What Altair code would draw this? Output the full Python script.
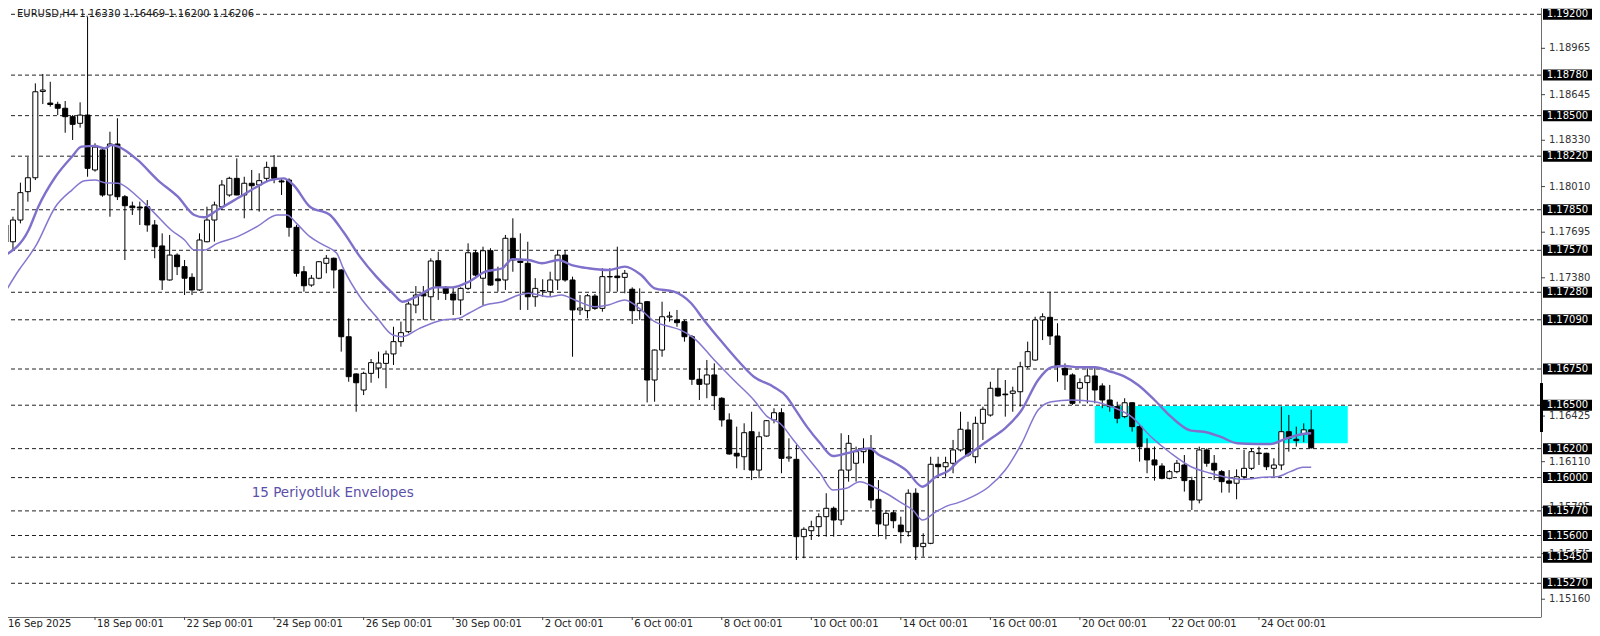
import altair as alt
import pandas as pd

# ---------------- data (EURUSD H4) ----------------
OPEN = [
    1.17745, 1.17629, 1.17779, 1.17975, 1.18071, 1.18667, 1.18587, 1.18578, 1.18551, 1.18493,
    1.18447, 1.18504, 1.18125, 1.18263, 1.17952, 1.18304, 1.17940, 1.17876, 1.17869, 1.17871,
    1.17745, 1.17600, 1.17365, 1.17537, 1.17457, 1.17383, 1.17296, 1.17629, 1.17779, 1.17871,
    1.17952, 1.18067, 1.17952, 1.18033, 1.18021, 1.18067, 1.18143, 1.18049, 1.18055, 1.17729,
    1.17422, 1.17330, 1.17377, 1.17480, 1.17515, 1.17434, 1.16973, 1.16716, 1.16605, 1.16720,
    1.16757, 1.16789, 1.16854, 1.16939, 1.17008, 1.17192, 1.17270, 1.17249, 1.17498, 1.17314,
    1.17268, 1.17227, 1.17307, 1.17553, 1.17377, 1.17567, 1.17372, 1.17365, 1.17653, 1.17496,
    1.17480, 1.17249, 1.17289, 1.17284, 1.17365, 1.17537, 1.17365, 1.17158, 1.17153, 1.17254,
    1.17169, 1.17386, 1.17392, 1.17383, 1.17301, 1.17153, 1.17215, 1.16674, 1.16881, 1.17109,
    1.17089, 1.17077, 1.16973, 1.16679, 1.16646, 1.16709, 1.16548, 1.16398, 1.16168, 1.16144,
    1.16317, 1.16052, 1.16287, 1.16398, 1.16448, 1.16135, 1.16126, 1.15592, 1.15633, 1.15661,
    1.15730, 1.15788, 1.15707, 1.16052, 1.16099, 1.16179, 1.16202, 1.15850, 1.15672, 1.15757,
    1.15672, 1.15626, 1.15892, 1.15523, 1.15546, 1.16092, 1.16075, 1.16099, 1.16191, 1.16329,
    1.16144, 1.16375, 1.16432, 1.16617, 1.16577, 1.16582, 1.16593, 1.16766, 1.16812, 1.17089,
    1.17107, 1.16978, 1.16755, 1.16709, 1.16617, 1.16656, 1.16702, 1.16633, 1.16536, 1.16490,
    1.16421, 1.16517, 1.16352, 1.16202, 1.16122, 1.16080, 1.15995, 1.16041, 1.16087, 1.15979,
    1.15845, 1.16191, 1.16099, 1.16041, 1.15977, 1.15961, 1.16006, 1.16064, 1.16166, 1.16168,
    1.16064, 1.16087, 1.16317, 1.16265, 1.16300, 1.16330,
]
HIGH = [
    1.17766, 1.17802, 1.18037, 1.18214, 1.18723, 1.18788, 1.18734, 1.18596, 1.18601, 1.18504,
    1.18592, 1.19181, 1.18309, 1.18274, 1.18389, 1.18482, 1.17952, 1.17906, 1.17906, 1.17917,
    1.17779, 1.17687, 1.17676, 1.17549, 1.17503, 1.17411, 1.17687, 1.17871, 1.17906, 1.18055,
    1.18078, 1.18205, 1.18078, 1.18125, 1.18102, 1.18182, 1.18228, 1.18067, 1.18067, 1.17745,
    1.17461, 1.17399, 1.17495, 1.17537, 1.17520, 1.17440, 1.17100, 1.16720, 1.16731, 1.16819,
    1.16870, 1.16877, 1.17042, 1.17077, 1.17215, 1.17323, 1.17323, 1.17515, 1.17560, 1.17323,
    1.17314, 1.17314, 1.17618, 1.17572, 1.17595, 1.17584, 1.17457, 1.17676, 1.17791, 1.17687,
    1.17629, 1.17377, 1.17370, 1.17422, 1.17572, 1.17572, 1.17388, 1.17261, 1.17268, 1.17268,
    1.17446, 1.17446, 1.17595, 1.17434, 1.17314, 1.17307, 1.17220, 1.16885, 1.17215, 1.17146,
    1.17158, 1.17089, 1.16985, 1.16755, 1.16812, 1.16789, 1.16555, 1.16444, 1.16352, 1.16375,
    1.16455, 1.16317, 1.16398, 1.16479, 1.16479, 1.16271, 1.16225, 1.15657, 1.15702, 1.15753,
    1.15892, 1.15800, 1.16306, 1.16294, 1.16214, 1.16271, 1.16294, 1.15983, 1.15776, 1.15776,
    1.15730, 1.15919, 1.15926, 1.15615, 1.16144, 1.16144, 1.16144, 1.16260, 1.16455, 1.16386,
    1.16421, 1.16490, 1.16662, 1.16755, 1.16674, 1.16628, 1.16800, 1.16939, 1.17111, 1.17135,
    1.17284, 1.17066, 1.16789, 1.16720, 1.16686, 1.16755, 1.16766, 1.16651, 1.16640, 1.16524,
    1.16548, 1.16520, 1.16364, 1.16271, 1.16214, 1.16099, 1.16052, 1.16122, 1.16156, 1.16006,
    1.16214, 1.16202, 1.16156, 1.16052, 1.16052, 1.16057, 1.16191, 1.16202, 1.16214, 1.16172,
    1.16133, 1.16490, 1.16433, 1.16352, 1.16375, 1.16469,
]
LOW = [
    1.17572, 1.17572, 1.17756, 1.17906, 1.18055, 1.18580, 1.18562, 1.18504, 1.18382, 1.18332,
    1.18417, 1.18078, 1.18113, 1.17940, 1.17802, 1.17917, 1.17503, 1.17814, 1.17745, 1.17698,
    1.17515, 1.17296, 1.17360, 1.17399, 1.17261, 1.17261, 1.17290, 1.17625, 1.17630, 1.17848,
    1.17940, 1.17950, 1.17791, 1.17848, 1.17837, 1.18044, 1.18033, 1.17952, 1.17664, 1.17388,
    1.17284, 1.17318, 1.17370, 1.17411, 1.17307, 1.16870, 1.16662, 1.16455, 1.16570, 1.16655,
    1.16686, 1.16617, 1.16778, 1.16904, 1.16997, 1.17135, 1.17089, 1.17089, 1.17227, 1.17227,
    1.17123, 1.17123, 1.17296, 1.17388, 1.17192, 1.17325, 1.17284, 1.17296, 1.17422, 1.17158,
    1.17158, 1.17180, 1.17249, 1.17249, 1.17296, 1.17353, 1.16835, 1.17123, 1.17100, 1.17158,
    1.17146, 1.17284, 1.17284, 1.17273, 1.17061, 1.17089, 1.16519, 1.16524, 1.16835, 1.17077,
    1.17042, 1.16939, 1.16640, 1.16536, 1.16548, 1.16467, 1.16352, 1.16158, 1.16064, 1.16052,
    1.15983, 1.15995, 1.16282, 1.16375, 1.16030, 1.16110, 1.15431, 1.15443, 1.15569, 1.15590,
    1.15592, 1.15592, 1.15672, 1.15972, 1.15972, 1.16099, 1.15788, 1.15592, 1.15574, 1.15650,
    1.15546, 1.15592, 1.15431, 1.15454, 1.15540, 1.16006, 1.16006, 1.16030, 1.16179, 1.16144,
    1.16099, 1.16260, 1.16421, 1.16559, 1.16421, 1.16455, 1.16490, 1.16755, 1.16807, 1.16950,
    1.16916, 1.16662, 1.16605, 1.16502, 1.16513, 1.16513, 1.16513, 1.16479, 1.16455, 1.16375,
    1.16410, 1.16317, 1.16110, 1.16030, 1.15979, 1.15988, 1.15988, 1.16030, 1.15903, 1.15776,
    1.15822, 1.16075, 1.15983, 1.15896, 1.15896, 1.15850, 1.15983, 1.16052, 1.16087, 1.16052,
    1.16006, 1.16052, 1.16179, 1.16214, 1.16245, 1.16200,
]
CLOSE = [
    1.17627, 1.17779, 1.17968, 1.18071, 1.18665, 1.18677, 1.18577, 1.18551, 1.18493, 1.18440,
    1.18504, 1.18136, 1.18283, 1.17952, 1.18304, 1.17940, 1.17878, 1.17864, 1.17862, 1.17745,
    1.17595, 1.17365, 1.17537, 1.17457, 1.17377, 1.17296, 1.17641, 1.17779, 1.17883, 1.18021,
    1.18067, 1.17952, 1.18033, 1.18016, 1.18051, 1.18143, 1.18067, 1.18042, 1.17729, 1.17411,
    1.17325, 1.17377, 1.17491, 1.17515, 1.17434, 1.16973, 1.16697, 1.16655, 1.16720, 1.16794,
    1.16791, 1.16854, 1.16939, 1.17001, 1.17199, 1.17261, 1.17255, 1.17496, 1.17319, 1.17273,
    1.17227, 1.17307, 1.17553, 1.17399, 1.17567, 1.17330, 1.17360, 1.17653, 1.17503, 1.17486,
    1.17249, 1.17307, 1.17292, 1.17365, 1.17537, 1.17365, 1.17158, 1.17171, 1.17256, 1.17169,
    1.17388, 1.17389, 1.17381, 1.17411, 1.17153, 1.17204, 1.16674, 1.16881, 1.17111, 1.17116,
    1.17070, 1.16973, 1.16679, 1.16644, 1.16709, 1.16566, 1.16398, 1.16163, 1.16149, 1.16310,
    1.16052, 1.16282, 1.16393, 1.16448, 1.16133, 1.16142, 1.15592, 1.15643, 1.15661, 1.15730,
    1.15788, 1.15707, 1.16052, 1.16237, 1.16179, 1.16202, 1.15845, 1.15680, 1.15753, 1.15702,
    1.15626, 1.15892, 1.15523, 1.15546, 1.16092, 1.16075, 1.16103, 1.16191, 1.16334, 1.16156,
    1.16375, 1.16472, 1.16617, 1.16564, 1.16572, 1.16598, 1.16766, 1.16870, 1.17089, 1.17111,
    1.16978, 1.16766, 1.16709, 1.16513, 1.16656, 1.16702, 1.16605, 1.16536, 1.16490, 1.16410,
    1.16517, 1.16352, 1.16213, 1.16122, 1.16087, 1.15995, 1.16041, 1.16099, 1.15979, 1.15845,
    1.16191, 1.16099, 1.16052, 1.15972, 1.15961, 1.16006, 1.16064, 1.16179, 1.16170, 1.16075,
    1.16087, 1.16317, 1.16271, 1.16255, 1.16330, 1.16206,
]

# 15-period envelope, upper and lower band (bar index, price)
ENV_UP_IDX = [0, 3.1, 4.4, 6.7, 8.9, 10.2, 12.0, 13.3, 14.2, 15.1, 17.7, 20.4, 23.1, 25.3, 26.6,
              28.4, 31.1, 33.7, 35.5, 37.3, 38.6, 40.8, 43.5, 45.3, 47.5, 49.7, 51.9, 53.2, 55.0,
              57.7, 59.9, 62.1, 64.3, 66.6, 67.9, 70.1, 71.9, 74.1, 75.9, 78.1, 80.8, 83.0, 85.2,
              87.0, 89.6, 91.9, 93.6, 95.8, 98.1, 100.3, 102.9, 104.7, 105.6, 107.4, 109.2, 110.9,
              112.7, 114.5, 115.8, 117.1, 118.9, 120.7, 122.9, 124.7, 126.5, 127.4, 129.6, 131.8,
              134.0, 136.2, 138.4, 140.2, 142.0, 143.8, 146.0, 148.2, 150.0, 151.8, 154.0, 156.2,
              158.9, 160.6, 162.8, 165.1, 167.7, 169.5, 171.7, 173.9, 175.0]
ENV_UP = [1.17537, 1.17710, 1.17871, 1.18078, 1.18216, 1.18286, 1.18291, 1.18274, 1.18297, 1.18286,
          1.18194, 1.18055, 1.17940, 1.17814, 1.17798, 1.17848, 1.17929, 1.18009, 1.18055, 1.18067,
          1.18021, 1.17871, 1.17814, 1.17696, 1.17526, 1.17388, 1.17273, 1.17215, 1.17249, 1.17314,
          1.17314, 1.17353, 1.17422, 1.17446, 1.17508, 1.17503, 1.17480, 1.17503, 1.17468, 1.17446,
          1.17434, 1.17457, 1.17399, 1.17307, 1.17284, 1.17204, 1.17089, 1.16950, 1.16812, 1.16697,
          1.16628, 1.16559, 1.16490, 1.16352, 1.16237, 1.16149, 1.16168, 1.16191, 1.16202, 1.16156,
          1.16110, 1.16052, 1.15937, 1.16006, 1.16052, 1.16099, 1.16179, 1.16260, 1.16341, 1.16467,
          1.16674, 1.16762, 1.16771, 1.16762, 1.16762, 1.16731, 1.16697, 1.16640, 1.16536, 1.16421,
          1.16324, 1.16317, 1.16283, 1.16237, 1.16232, 1.16232, 1.16271, 1.16301, 1.16306]
ENV_LO_IDX = [0, 1.8, 3.1, 4.0, 6.7, 8.9, 10.6, 12.0, 13.3, 15.1, 17.7, 20.0, 22.2, 24.0, 25.3,
              26.6, 28.4, 31.1, 33.7, 36.4, 37.7, 39.0, 40.8, 42.6, 44.4, 45.3, 47.5, 49.7, 51.9,
              53.2, 55.5, 58.6, 60.8, 62.1, 64.3, 66.6, 68.8, 70.1, 72.8, 74.5, 76.3, 79.0, 80.8,
              83.0, 85.2, 87.0, 88.7, 90.5, 92.3, 95.0, 97.6, 100.3, 102.1, 103.8, 105.6, 107.4,
              109.2, 110.9, 112.7, 114.5, 116.3, 118.0, 120.2, 121.6, 122.9, 124.7, 126.5, 127.4,
              129.6, 131.8, 134.0, 136.2, 138.4, 140.2, 142.9, 146.0, 148.2, 150.9, 153.5, 156.2,
              158.9, 161.5, 163.3, 166.0, 168.6, 170.4, 172.2, 173.9, 175.0]
ENV_LO = [1.17284, 1.17434, 1.17526, 1.17595, 1.17871, 1.17986, 1.18051, 1.18055, 1.18037, 1.18033,
          1.17940, 1.17825, 1.17710, 1.17641, 1.17572, 1.17572, 1.17618, 1.17664, 1.17733, 1.17814,
          1.17814, 1.17756, 1.17664, 1.17607, 1.17549, 1.17443, 1.17249, 1.17111, 1.16985, 1.16973,
          1.17031, 1.17089, 1.17100, 1.17135, 1.17192, 1.17215, 1.17261, 1.17273, 1.17249, 1.17261,
          1.17227, 1.17180, 1.17192, 1.17227, 1.17158, 1.17077, 1.17047, 1.17019, 1.16962, 1.16812,
          1.16674, 1.16536, 1.16421, 1.16375, 1.16260, 1.16144, 1.16030, 1.15914, 1.15926, 1.15972,
          1.15937, 1.15892, 1.15822, 1.15776, 1.15707, 1.15764, 1.15810, 1.15822, 1.15868, 1.15937,
          1.16052, 1.16237, 1.16467, 1.16524, 1.16536, 1.16524, 1.16490, 1.16421, 1.16283, 1.16168,
          1.16075, 1.16030, 1.16006, 1.15988, 1.16002, 1.16006, 1.16041, 1.16071, 1.16071]

LEVELS = [1.19200, 1.18780, 1.18500, 1.18220, 1.17850, 1.17570, 1.17280, 1.17090,
          1.16750, 1.16500, 1.16200, 1.16000, 1.15770, 1.15600, 1.15450, 1.15270]
SCALE_TICKS = [1.19280, 1.18965, 1.18645, 1.18330, 1.18010, 1.17695, 1.17380,
               1.16425, 1.16110, 1.15795, 1.15475, 1.15160]
TIME_IDX = [0, 12, 24, 36, 48, 60, 72, 84, 96, 108, 120, 132, 144, 156, 168]
TIME_LABELS = ["16 Sep 2025", "18 Sep 00:01", "22 Sep 00:01", "24 Sep 00:01", "26 Sep 00:01",
               "30 Sep 00:01", "2 Oct 00:01", "6 Oct 00:01", "8 Oct 00:01", "10 Oct 00:01",
               "14 Oct 00:01", "16 Oct 00:01", "20 Oct 00:01", "22 Oct 00:01", "24 Oct 00:01"]
ZONE_IDX = [146.0, 179.9]
ZONE_PRICE = [1.16237, 1.16494]
MARKER_PRICE = [1.16315, 1.16653]
TITLE = "EURUSD,H4  1.16330 1.16469 1.16200 1.16206"
NOTE = "15 Periyotluk Envelopes"
NOTE_IDX, NOTE_PRICE = 33.0, 1.15868

# ---------------- tables ----------------
bars = pd.DataFrame({"i": list(range(len(OPEN))), "open": OPEN, "high": HIGH,
                     "low": LOW, "close": CLOSE})
up = pd.DataFrame({"i": ENV_UP_IDX, "p": ENV_UP})
lo = pd.DataFrame({"i": ENV_LO_IDX, "p": ENV_LO})
lev = pd.DataFrame({"p": LEVELS, "t": [f"{v:.5f}" for v in LEVELS]})
sct = pd.DataFrame({"p": SCALE_TICKS, "t": [f"{v:.5f}" for v in SCALE_TICKS]})
tt = pd.DataFrame({"i": TIME_IDX, "t": TIME_LABELS})
zone = pd.DataFrame({"x0": [ZONE_IDX[0]], "x1": [ZONE_IDX[1]],
                     "y0": [ZONE_PRICE[0]], "y1": [ZONE_PRICE[1]]})
marker = pd.DataFrame({"y0": [MARKER_PRICE[0]], "y1": [MARKER_PRICE[1]]})
note = pd.DataFrame({"i": [NOTE_IDX], "p": [NOTE_PRICE], "t": [NOTE]})
one = pd.DataFrame({"t": [TITLE]})

W, H = 1533, 609          # plot area (page x 8..1541, y 8..617)
RP, BP = 51, 11           # room for the price scale and the time scale (whole svg 1584 x 620)
FONT = "DejaVu Sans"
xs = alt.Scale(domain=[-0.0666, 205.13], range=[-8, W], nice=False, zero=False)
ys = alt.Scale(domain=[1.150371, 1.192988], range=[H, -8], nice=False, zero=False)
X = lambda f: alt.X(f, type="quantitative", scale=xs, axis=None)
Y = lambda f: alt.Y(f, type="quantitative", scale=ys, axis=None)

levels = alt.Chart(lev).mark_rule(strokeDash=[4, 3], color="#222222", strokeWidth=1).encode(y=Y("p"))
zone_l = alt.Chart(zone).mark_rect(color="#00FFFF").encode(x=X("x0"), x2="x1", y=Y("y0"), y2="y1")
wicks = alt.Chart(bars).mark_rule(color="black", strokeWidth=1).encode(x=X("i"), y=Y("low"), y2="high")
bodies = alt.Chart(bars).mark_bar(size=5, stroke="black", strokeWidth=1).encode(
    x=X("i"), y=Y("open"), y2="close",
    fill=alt.condition("datum.close >= datum.open", alt.value("white"), alt.value("black")))
env_up = alt.Chart(up).mark_line(color="#8070cc", strokeWidth=2.4, interpolate="monotone").encode(
    x=X("i"), y=Y("p"))
env_lo = alt.Chart(lo).mark_line(color="#8576cf", strokeWidth=1.5, interpolate="monotone").encode(
    x=X("i"), y=Y("p"))
note_l = alt.Chart(note).mark_text(align="left", baseline="alphabetic", font=FONT, fontSize=13.5,
                                   color="#5b4fa8").encode(x=X("i"), y=Y("p"), text="t:N")
title_l = alt.Chart(one).mark_text(align="left", baseline="alphabetic", font=FONT, fontSize=10,
                                   color="#1a1a1a").encode(x=alt.value(9), y=alt.value(8.5), text="t:N")

# frame (right price axis line and bottom time axis line)
right_line = alt.Chart(one).mark_rule(color="#6e6e6e", strokeWidth=1).encode(
    x=alt.value(W + 0.5), y=alt.value(-8), y2=alt.value(H))
bottom_line = alt.Chart(one).mark_rule(color="#6e6e6e", strokeWidth=1).encode(
    x=alt.value(-8), x2=alt.value(W + 0.5), y=alt.value(H + 0.5))

# right price scale
sc_ticks = alt.Chart(sct).mark_rule(color="#444444").encode(
    x=alt.value(W), x2=alt.value(W + 4), y=Y("p"))
sc_text = alt.Chart(sct).mark_text(align="left", baseline="middle", font=FONT, fontSize=10,
                                   color="#333333").encode(x=alt.value(W + 8), y=Y("p"), text="t:N")
box = alt.Chart(lev).mark_rect(color="black", yOffset=-5.5, y2Offset=5.5).encode(
    x=alt.value(W + 2), x2=alt.value(W + RP), y=Y("p"), y2="p")
box_text = alt.Chart(lev).mark_text(align="center", baseline="middle", font=FONT, fontSize=10,
                                    color="white").encode(x=alt.value(W + 2 + (RP - 2) / 2), y=Y("p"), text="t:N")
marker_l = alt.Chart(marker).mark_rect(color="black").encode(
    x=alt.value(W - 1), x2=alt.value(W + 2), y=Y("y0"), y2="y1")

# time scale
tt_main = tt[tt["i"] > 0]
tt_first = tt[tt["i"] == 0]
t_ticks = alt.Chart(tt).mark_rule(color="#444444").encode(x=X("i"), y=alt.value(H), y2=alt.value(H + 3))
t_text = alt.Chart(tt_main).mark_text(align="left", baseline="alphabetic", dx=2, font=FONT, fontSize=10,
                                      color="#222222").encode(x=X("i"), y=alt.value(H + 10), text="t:N")
t_first = alt.Chart(tt_first).mark_text(align="left", baseline="alphabetic", font=FONT, fontSize=10,
                                        color="#222222").encode(x=alt.value(0), y=alt.value(H + 10), text="t:N")

chart = alt.layer(
    levels, zone_l, wicks, bodies, env_lo, env_up, note_l, title_l,
    right_line, bottom_line, sc_ticks, sc_text, box, box_text, marker_l,
    t_ticks, t_text, t_first,
).properties(
    width=W, height=H,
    padding={"left": 0, "top": 0, "right": RP, "bottom": BP},
    autosize=alt.AutoSizeParams(type="none"),
    background="white",
).configure_view(stroke=None)

chart.save("out.html", embed_options={"renderer": "svg", "actions": False})
